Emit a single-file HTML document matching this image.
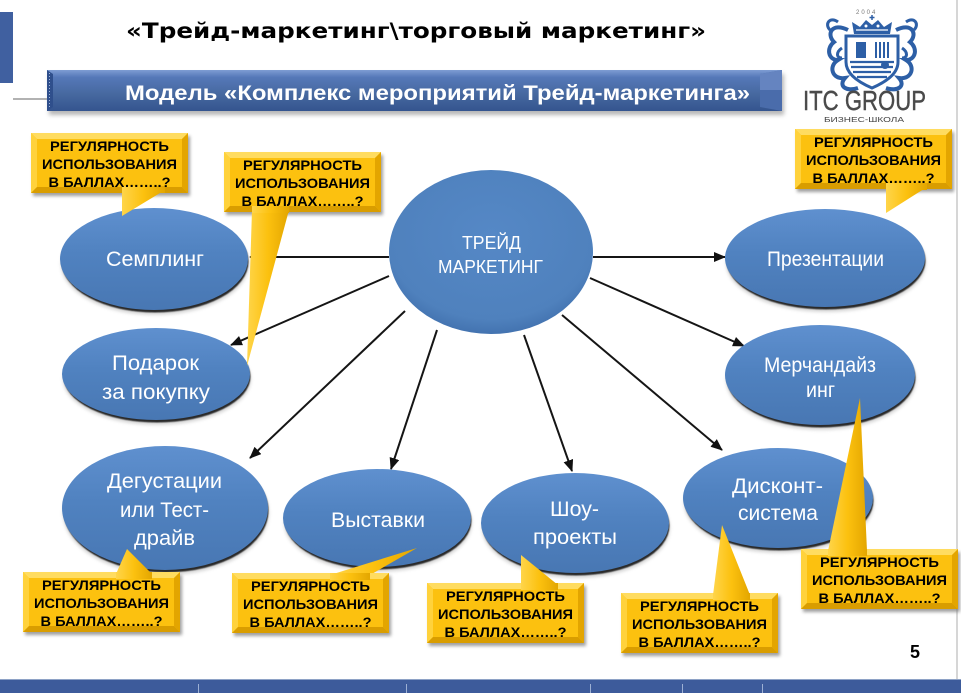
<!DOCTYPE html>
<html><head><meta charset="utf-8">
<style>
html,body{margin:0;padding:0;background:#fff;}
body{width:961px;height:693px;overflow:hidden;}
svg{display:block;}
.et{font-family:"Liberation Sans","DejaVu Sans",sans-serif;fill:#fff;font-size:21px;}
.ct{font-family:"Liberation Sans","DejaVu Sans",sans-serif;font-weight:bold;fill:#000;font-size:14px;}
</style></head><body>
<svg width="961" height="693" viewBox="0 0 961 693" xmlns="http://www.w3.org/2000/svg">
<defs>
  <linearGradient id="eg" x1="0" y1="0" x2="0" y2="1">
    <stop offset="0" stop-color="#5f90cf"/>
    <stop offset="0.45" stop-color="#5082c0"/>
    <stop offset="1" stop-color="#4877b3"/>
  </linearGradient>
  <radialGradient id="eg2" cx="50%" cy="40%" r="60%">
    <stop offset="0" stop-color="#5588c6"/>
    <stop offset="0.85" stop-color="#4f81bd"/>
    <stop offset="1" stop-color="#4373b0"/>
  </radialGradient>
  <linearGradient id="bg" x1="0" y1="0" x2="0" y2="1">
    <stop offset="0" stop-color="#7e9dd3"/>
    <stop offset="0.18" stop-color="#5578b8"/>
    <stop offset="0.6" stop-color="#46689f"/>
    <stop offset="1" stop-color="#34548f"/>
  </linearGradient>
  <linearGradient id="pg" x1="0" y1="0" x2="1" y2="0">
    <stop offset="0" stop-color="#ffd54a"/>
    <stop offset="0.5" stop-color="#fcc10f"/>
    <stop offset="1" stop-color="#e3a600"/>
  </linearGradient>
  <filter id="bl" x="-10%" y="-10%" width="120%" height="130%"><feGaussianBlur stdDeviation="1.6"/></filter>
  <filter id="bls" x="-10%" y="-10%" width="120%" height="130%"><feGaussianBlur stdDeviation="0.6"/></filter>
  <filter id="bl2" x="-10%" y="-30%" width="120%" height="160%"><feGaussianBlur stdDeviation="2"/></filter>
  <marker id="ar" markerWidth="12" markerHeight="10" refX="11" refY="5" orient="auto" markerUnits="userSpaceOnUse">
    <path d="M0,0 L12,5 L0,10 z" fill="#111"/>
  </marker>
</defs>

<!-- right edge line -->
<rect x="956" y="0" width="2" height="680" fill="#d6d6d6"/>

<!-- left blue block and line -->
<rect x="0" y="12" width="13" height="71" fill="#4060a0"/>
<line x1="13" y1="99" x2="47" y2="99" stroke="#666" stroke-width="1"/>

<!-- title -->
<text x="126" y="38" textLength="580" lengthAdjust="spacingAndGlyphs" font-family="'DejaVu Sans','Liberation Sans',sans-serif" font-weight="bold" font-size="21" fill="#000">«Трейд-маркетинг\торговый маркетинг»</text>

<!-- banner -->
<rect x="49" y="74" width="735" height="41" fill="#999" filter="url(#bl2)" opacity="0.7"/>
<rect x="47" y="70" width="735" height="41" fill="url(#bg)"/>
<polygon points="47,70 53,74 53,107 47,111" fill="#2f4f8c"/>
<line x1="49.5" y1="73" x2="49.5" y2="109" stroke="#9fb3d8" stroke-width="1" stroke-dasharray="1,2"/>
<polygon points="760,74 782,70 782,111 760,107" fill="#4a6cab"/>
<polygon points="760,74 782,70 782,90 760,90" fill="#6584c0"/>
<text x="125" y="100" textLength="625" lengthAdjust="spacingAndGlyphs" font-family="'Liberation Sans','DejaVu Sans',sans-serif" font-weight="bold" font-size="21" fill="#fff">Модель  «Комплекс мероприятий Трейд-маркетинга»</text>

<!-- logo -->
<g>
  <text x="856" y="14" font-family="'Liberation Sans',sans-serif" font-size="6" fill="#777" letter-spacing="2">2004</text>
  <path d="M872,15 l0,5 M869.5,17.5 l5,0" stroke="#2d5fa6" stroke-width="1.5"/>
  <!-- crown -->
  <path d="M854,34 L852,22 L860,27 L866,20 L872,25 L878,20 L884,27 L892,22 L890,34 Z" fill="#2d5fa6"/>
  <path d="M856,30 L888,30" stroke="#fff" stroke-width="1.2"/>
  <circle cx="866" cy="26" r="1.5" fill="#fff"/><circle cx="878" cy="26" r="1.5" fill="#fff"/>
  <!-- flourishes -->
  <path d="M848,30 C832,22 826,34 834,42 C826,48 828,60 838,60 C828,66 832,80 845,78 C838,86 846,92 858,88" fill="none" stroke="#2d5fa6" stroke-width="4"/>
  <path d="M838,22 C830,16 824,24 830,30" fill="none" stroke="#2d5fa6" stroke-width="3"/>
  <path d="M842,48 C836,52 836,58 842,58" fill="none" stroke="#2d5fa6" stroke-width="3"/>
  <path d="M896,30 C912,22 918,34 910,42 C918,48 916,60 906,60 C916,66 912,80 899,78 C906,86 898,92 886,88" fill="none" stroke="#2d5fa6" stroke-width="4"/>
  <path d="M906,22 C914,16 920,24 914,30" fill="none" stroke="#2d5fa6" stroke-width="3"/>
  <path d="M902,48 C908,52 908,58 902,58" fill="none" stroke="#2d5fa6" stroke-width="3"/>
  <!-- shield -->
  <path d="M846,36 L898,36 L898,62 C898,74 886,82 872,88 C858,82 846,74 846,62 Z" fill="#fff" stroke="#2d5fa6" stroke-width="3"/>
  <rect x="856" y="42" width="10" height="16" fill="#2d5fa6"/>
  <path d="M876,42 v16 M880,42 v16 M884,42 v16 M888,42 v16" stroke="#2d5fa6" stroke-width="2"/>
  <path d="M850,62 H894 M851,67 H893 M853,72 H891 M857,77 H887" stroke="#2d5fa6" stroke-width="2.2"/>
  <circle cx="885" cy="65" r="4" fill="#2d5fa6"/>
  <text x="803" y="110" textLength="123" lengthAdjust="spacingAndGlyphs" font-family="'Liberation Sans',sans-serif" font-size="28" fill="#4a4a4a" stroke="#4a4a4a" stroke-width="0.4">ITC GROUP</text>
  <text x="824" y="122" textLength="80" lengthAdjust="spacingAndGlyphs" font-family="'Liberation Sans',sans-serif" font-size="7" fill="#444">БИЗНЕС-ШКОЛА</text>
</g>

<!-- connectors -->
<g stroke="#151515" stroke-width="2" fill="none" marker-end="url(#ar)">
  <line x1="389" y1="257" x2="250" y2="257"/>
  <line x1="389" y1="276" x2="231" y2="345"/>
  <line x1="405" y1="311" x2="250" y2="458"/>
  <line x1="437" y1="330" x2="391" y2="469"/>
  <line x1="524" y1="335" x2="572" y2="471"/>
  <line x1="562" y1="315" x2="722" y2="450"/>
  <line x1="590" y1="278" x2="744" y2="346"/>
  <line x1="593" y1="257" x2="725" y2="257"/>
</g>

<!-- ellipse soft shadows -->
<g fill="#888" filter="url(#bl)" opacity="0.35">
  <ellipse cx="155" cy="264" rx="94" ry="51"/>
  <ellipse cx="157" cy="379" rx="94" ry="46"/>
  <ellipse cx="826" cy="263" rx="100" ry="49"/>
  <ellipse cx="821" cy="380" rx="95" ry="50"/>
  <ellipse cx="166" cy="513" rx="103" ry="62"/>
  <ellipse cx="378" cy="523" rx="94" ry="49"/>
  <ellipse cx="576" cy="528" rx="94" ry="50"/>
  <ellipse cx="779" cy="503" rx="95" ry="50"/>
</g>
<!-- ellipse dark crescent -->
<g fill="#2a2a2a" filter="url(#bls)">
  <ellipse cx="155" cy="261.5" rx="93.5" ry="51"/>
  <ellipse cx="157" cy="376.5" rx="93.5" ry="46"/>
  <ellipse cx="826" cy="260.5" rx="99.5" ry="49"/>
  <ellipse cx="821" cy="377.5" rx="94.5" ry="50"/>
  <ellipse cx="166" cy="510.5" rx="102.5" ry="62"/>
  <ellipse cx="378" cy="520.5" rx="93.5" ry="49"/>
  <ellipse cx="576" cy="525.5" rx="93.5" ry="50"/>
  <ellipse cx="779" cy="500.5" rx="94.5" ry="50"/>
</g>
<g fill="url(#eg)">
  <ellipse cx="154" cy="259" rx="94" ry="51"/>
  <ellipse cx="156" cy="374" rx="94" ry="46"/>
  <ellipse cx="825" cy="258" rx="100" ry="49"/>
  <ellipse cx="820" cy="375" rx="95" ry="50"/>
  <ellipse cx="165" cy="508" rx="103" ry="62"/>
  <ellipse cx="377" cy="518" rx="94" ry="49"/>
  <ellipse cx="575" cy="523" rx="94" ry="50"/>
  <ellipse cx="778" cy="498" rx="95" ry="50"/>
</g>
<ellipse cx="491" cy="252" rx="102" ry="82" fill="url(#eg2)"/>

<!-- ellipse texts -->
<text class="et" x="106" y="266" textLength="98" lengthAdjust="spacingAndGlyphs">Семплинг</text>
<text class="et" x="112" y="370" textLength="87" lengthAdjust="spacingAndGlyphs">Подарок</text>
<text class="et" x="102" y="399" textLength="108" lengthAdjust="spacingAndGlyphs">за покупку</text>
<text class="et" x="462" y="249" style="font-size:18px" textLength="59" lengthAdjust="spacingAndGlyphs">ТРЕЙД</text>
<text class="et" x="438" y="273" style="font-size:18px" textLength="105" lengthAdjust="spacingAndGlyphs">МАРКЕТИНГ</text>
<text class="et" x="767" y="266" textLength="117" lengthAdjust="spacingAndGlyphs">Презентации</text>
<text class="et" x="764" y="372" textLength="112" lengthAdjust="spacingAndGlyphs">Мерчандайз</text>
<text class="et" x="806" y="397" textLength="29" lengthAdjust="spacingAndGlyphs">инг</text>
<text class="et" x="107" y="488" textLength="115" lengthAdjust="spacingAndGlyphs">Дегустации</text>
<text class="et" x="120" y="517" textLength="89" lengthAdjust="spacingAndGlyphs">или Тест-</text>
<text class="et" x="134" y="545" textLength="61" lengthAdjust="spacingAndGlyphs">драйв</text>
<text class="et" x="331" y="527" textLength="94" lengthAdjust="spacingAndGlyphs">Выставки</text>
<text class="et" x="550" y="516" textLength="49" lengthAdjust="spacingAndGlyphs">Шоу-</text>
<text class="et" x="533" y="544" textLength="84" lengthAdjust="spacingAndGlyphs">проекты</text>
<text class="et" x="732" y="493" textLength="91" lengthAdjust="spacingAndGlyphs">Дисконт-</text>
<text class="et" x="738" y="520" textLength="80" lengthAdjust="spacingAndGlyphs">система</text>

<!-- callouts: shadows -->
<g fill="#777" filter="url(#bl)" opacity="0.7">
  <rect x="33" y="136" width="157" height="60"/>
  <rect x="226" y="155" width="157" height="60"/>
  <rect x="797" y="132" width="157" height="60"/>
  <rect x="25" y="575" width="157" height="60"/>
  <rect x="234" y="576" width="157" height="60"/>
  <rect x="429" y="586" width="157" height="60"/>
  <rect x="623" y="596" width="157" height="60"/>
  <rect x="803" y="552" width="157" height="60"/>
</g>
<!-- pointers -->
<g fill="url(#pg)">
  <polygon points="122,190 165,190 122,216"/>
  <polygon points="252,210 289,210 247,366"/>
  <polygon points="886,187 927,187 886,213"/>
  <polygon points="116,574 152,574 127,549"/>
  <polygon points="330,575 370,575 417,548"/>
  <polygon points="521,585 558,585 521,555"/>
  <polygon points="713,595 750,595 722,525"/>
  <polygon points="828,551 867,551 860,398"/>
</g>
<!-- callout boxes with bevel -->
<g>
  <g transform="translate(31,133)"><rect width="157" height="60" fill="#fcc10f"/><polygon points="0,0 157,0 151,6 6,6" fill="#ffdc60"/><polygon points="0,0 6,6 6,54 0,60" fill="#ffd23c"/><polygon points="157,0 157,60 151,54 151,6" fill="#e3a500"/><polygon points="0,60 157,60 151,54 6,54" fill="#d99d00"/></g>
  <g transform="translate(224,152)"><rect width="157" height="60" fill="#fcc10f"/><polygon points="0,0 157,0 151,6 6,6" fill="#ffdc60"/><polygon points="0,0 6,6 6,54 0,60" fill="#ffd23c"/><polygon points="157,0 157,60 151,54 151,6" fill="#e3a500"/><polygon points="0,60 157,60 151,54 6,54" fill="#d99d00"/></g>
  <g transform="translate(795,129)"><rect width="157" height="60" fill="#fcc10f"/><polygon points="0,0 157,0 151,6 6,6" fill="#ffdc60"/><polygon points="0,0 6,6 6,54 0,60" fill="#ffd23c"/><polygon points="157,0 157,60 151,54 151,6" fill="#e3a500"/><polygon points="0,60 157,60 151,54 6,54" fill="#d99d00"/></g>
  <g transform="translate(23,572)"><rect width="157" height="60" fill="#fcc10f"/><polygon points="0,0 157,0 151,6 6,6" fill="#ffdc60"/><polygon points="0,0 6,6 6,54 0,60" fill="#ffd23c"/><polygon points="157,0 157,60 151,54 151,6" fill="#e3a500"/><polygon points="0,60 157,60 151,54 6,54" fill="#d99d00"/></g>
  <g transform="translate(232,573)"><rect width="157" height="60" fill="#fcc10f"/><polygon points="0,0 157,0 151,6 6,6" fill="#ffdc60"/><polygon points="0,0 6,6 6,54 0,60" fill="#ffd23c"/><polygon points="157,0 157,60 151,54 151,6" fill="#e3a500"/><polygon points="0,60 157,60 151,54 6,54" fill="#d99d00"/></g>
  <g transform="translate(427,583)"><rect width="157" height="60" fill="#fcc10f"/><polygon points="0,0 157,0 151,6 6,6" fill="#ffdc60"/><polygon points="0,0 6,6 6,54 0,60" fill="#ffd23c"/><polygon points="157,0 157,60 151,54 151,6" fill="#e3a500"/><polygon points="0,60 157,60 151,54 6,54" fill="#d99d00"/></g>
  <g transform="translate(621,593)"><rect width="157" height="60" fill="#fcc10f"/><polygon points="0,0 157,0 151,6 6,6" fill="#ffdc60"/><polygon points="0,0 6,6 6,54 0,60" fill="#ffd23c"/><polygon points="157,0 157,60 151,54 151,6" fill="#e3a500"/><polygon points="0,60 157,60 151,54 6,54" fill="#d99d00"/></g>
  <g transform="translate(801,549)"><rect width="157" height="60" fill="#fcc10f"/><polygon points="0,0 157,0 151,6 6,6" fill="#ffdc60"/><polygon points="0,0 6,6 6,54 0,60" fill="#ffd23c"/><polygon points="157,0 157,60 151,54 151,6" fill="#e3a500"/><polygon points="0,60 157,60 151,54 6,54" fill="#d99d00"/></g>
</g>
<!-- pointer joins over bevel -->
<g fill="url(#pg)">
  <polygon points="122,186 165,186 165,193 122,193"/>
  <polygon points="252,206 289,206 289,213 252,213"/>
  <polygon points="886,183 927,183 927,190 886,190"/>
  <polygon points="116,572 152,572 152,579 116,579"/>
  <polygon points="330,573 370,573 370,580 330,580"/>
  <polygon points="521,583 558,583 558,590 521,590"/>
  <polygon points="713,593 750,593 750,600 713,600"/>
  <polygon points="828,549 867,549 867,556 828,556"/>
</g>

<!-- callout texts -->
<g class="ct" text-anchor="middle">
  <g transform="translate(109.5,133)"><text y="18" textLength="119" lengthAdjust="spacingAndGlyphs">РЕГУЛЯРНОСТЬ</text><text y="36" textLength="135" lengthAdjust="spacingAndGlyphs">ИСПОЛЬЗОВАНИЯ</text><text y="54" textLength="122" lengthAdjust="spacingAndGlyphs">В БАЛЛАХ……..?</text></g>
  <g transform="translate(302.5,152)"><text y="18" textLength="119" lengthAdjust="spacingAndGlyphs">РЕГУЛЯРНОСТЬ</text><text y="36" textLength="135" lengthAdjust="spacingAndGlyphs">ИСПОЛЬЗОВАНИЯ</text><text y="54" textLength="122" lengthAdjust="spacingAndGlyphs">В БАЛЛАХ……..?</text></g>
  <g transform="translate(873.5,129)"><text y="18" textLength="119" lengthAdjust="spacingAndGlyphs">РЕГУЛЯРНОСТЬ</text><text y="36" textLength="135" lengthAdjust="spacingAndGlyphs">ИСПОЛЬЗОВАНИЯ</text><text y="54" textLength="122" lengthAdjust="spacingAndGlyphs">В БАЛЛАХ……..?</text></g>
  <g transform="translate(101.5,572)"><text y="18" textLength="119" lengthAdjust="spacingAndGlyphs">РЕГУЛЯРНОСТЬ</text><text y="36" textLength="135" lengthAdjust="spacingAndGlyphs">ИСПОЛЬЗОВАНИЯ</text><text y="54" textLength="122" lengthAdjust="spacingAndGlyphs">В БАЛЛАХ……..?</text></g>
  <g transform="translate(310.5,573)"><text y="18" textLength="119" lengthAdjust="spacingAndGlyphs">РЕГУЛЯРНОСТЬ</text><text y="36" textLength="135" lengthAdjust="spacingAndGlyphs">ИСПОЛЬЗОВАНИЯ</text><text y="54" textLength="122" lengthAdjust="spacingAndGlyphs">В БАЛЛАХ……..?</text></g>
  <g transform="translate(505.5,583)"><text y="18" textLength="119" lengthAdjust="spacingAndGlyphs">РЕГУЛЯРНОСТЬ</text><text y="36" textLength="135" lengthAdjust="spacingAndGlyphs">ИСПОЛЬЗОВАНИЯ</text><text y="54" textLength="122" lengthAdjust="spacingAndGlyphs">В БАЛЛАХ……..?</text></g>
  <g transform="translate(699.5,593)"><text y="18" textLength="119" lengthAdjust="spacingAndGlyphs">РЕГУЛЯРНОСТЬ</text><text y="36" textLength="135" lengthAdjust="spacingAndGlyphs">ИСПОЛЬЗОВАНИЯ</text><text y="54" textLength="122" lengthAdjust="spacingAndGlyphs">В БАЛЛАХ……..?</text></g>
  <g transform="translate(879.5,549)"><text y="18" textLength="119" lengthAdjust="spacingAndGlyphs">РЕГУЛЯРНОСТЬ</text><text y="36" textLength="135" lengthAdjust="spacingAndGlyphs">ИСПОЛЬЗОВАНИЯ</text><text y="54" textLength="122" lengthAdjust="spacingAndGlyphs">В БАЛЛАХ……..?</text></g>
</g>

<!-- page number -->
<text x="910" y="658" font-family="'Liberation Sans',sans-serif" font-weight="bold" font-size="18" fill="#000">5</text>

<!-- bottom bar -->
<rect x="0" y="679" width="961" height="1" fill="#8ea2c6"/>
<rect x="0" y="680" width="961" height="13" fill="#3d5b9b"/>
<g stroke="#9db0d4" stroke-width="1">
  <line x1="198.5" y1="684" x2="198.5" y2="693"/>
  <line x1="406.5" y1="684" x2="406.5" y2="693"/>
  <line x1="590.5" y1="684" x2="590.5" y2="693"/>
  <line x1="682.5" y1="684" x2="682.5" y2="693"/>
  <line x1="762.5" y1="684" x2="762.5" y2="693"/>
</g>
</svg>
</body></html>
